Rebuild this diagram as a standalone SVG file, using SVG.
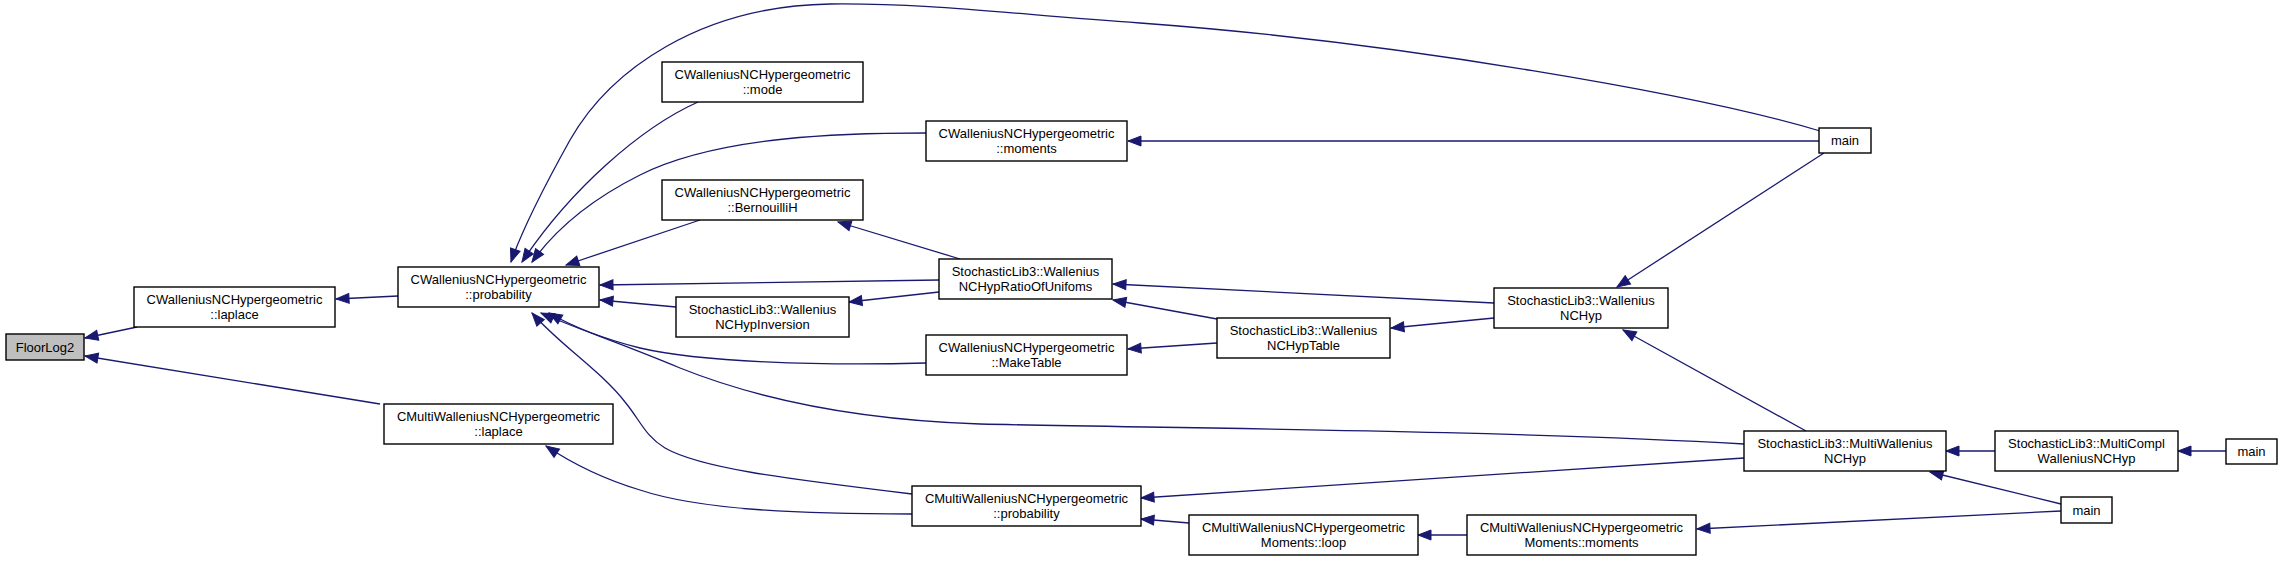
<svg xmlns="http://www.w3.org/2000/svg" width="2283" height="561" viewBox="0 0 2283 561">
<style>
.n rect{fill:#ffffff;stroke:#000000;stroke-width:1.4}
.n text{font-family:"Liberation Sans",Arial,Helvetica,sans-serif;font-size:13px;fill:#000000;text-anchor:middle}
#FloorLog2 rect{fill:#bfbfbf}
.e path{fill:none;stroke:#191970;stroke-width:1.3;marker-end:url(#arr)}
</style>
<defs>
<marker id="arr" markerUnits="userSpaceOnUse" markerWidth="14" markerHeight="11" refX="13" refY="5" orient="auto" overflow="visible">
<path d="M0,0 L13,5 L0,10 z" fill="#191970" stroke="#191970" stroke-width="1"/>
</marker>
</defs>
<rect width="2283" height="561" fill="#ffffff"/>
<g class="e" id="edges">
<path d="M137,327 L85,338"/>
<path d="M380,404 L85,356"/>
<path d="M398,296 L336,299"/>
<path d="M1820,131 C1700,95 1400,42 1140,23 C1010,14 930,3 830,4 C700,6 610,70 570,140 C545,185 522,230 511,262"/>
<path d="M698,102 C640,128 570,190 522,262"/>
<path d="M926,133 C850,133 720,135 640,175 C590,200 555,230 532,262"/>
<path d="M700,220 L566,265"/>
<path d="M960,259 L838,222"/>
<path d="M939,280 L600,285"/>
<path d="M676,307 L600,300"/>
<path d="M939,292 L849,302"/>
<path d="M926,363 C820,366 700,362 640,348 C600,338 570,325 549,313"/>
<path d="M1744,444 C1500,430 1150,428 980,424 C860,420 760,400 680,368 C620,343 575,328 541,313"/>
<path d="M912,494 C780,478 700,468 665,448 C645,436 640,420 625,402 C600,370 560,345 532,313"/>
<path d="M912,514 C800,514 700,510 640,490 C600,478 570,462 546,446"/>
<path d="M1819,141 L1128,141"/>
<path d="M1824,153 L1617,287"/>
<path d="M1494,303 L1113,284"/>
<path d="M1217,319 L1113,300"/>
<path d="M1217,343 L1128,349"/>
<path d="M1494,318 L1391,328"/>
<path d="M1806,431 L1623,330"/>
<path d="M1995,451 L1946,451"/>
<path d="M2226,451 L2178,451"/>
<path d="M2061,504 L1930,472"/>
<path d="M1744,458 L1141,498"/>
<path d="M1189,523 L1141,519"/>
<path d="M1467,535 L1418,535"/>
<path d="M2061,511 L1697,529"/>
</g>
<g class="n" id="FloorLog2"><rect x="6" y="334" width="78" height="26"/><text x="45" y="351.5">FloorLog2</text></g>
<g class="n" id="CWNCH_laplace"><rect x="134" y="287" width="201" height="40"/><text x="234.5" y="303.5">CWalleniusNCHypergeometric</text><text x="234.5" y="318.5">::laplace</text></g>
<g class="n" id="CWNCH_probability"><rect x="398" y="267" width="201" height="40"/><text x="498.5" y="283.5">CWalleniusNCHypergeometric</text><text x="498.5" y="298.5">::probability</text></g>
<g class="n" id="CMWNCH_laplace"><rect x="384" y="404" width="229" height="40"/><text x="498.5" y="420.5">CMultiWalleniusNCHypergeometric</text><text x="498.5" y="435.5">::laplace</text></g>
<g class="n" id="CWNCH_mode"><rect x="662" y="62" width="201" height="40"/><text x="762.5" y="78.5">CWalleniusNCHypergeometric</text><text x="762.5" y="93.5">::mode</text></g>
<g class="n" id="CWNCH_moments"><rect x="926" y="121" width="201" height="40"/><text x="1026.5" y="137.5">CWalleniusNCHypergeometric</text><text x="1026.5" y="152.5">::moments</text></g>
<g class="n" id="CWNCH_BernouilliH"><rect x="662" y="180" width="201" height="40"/><text x="762.5" y="196.5">CWalleniusNCHypergeometric</text><text x="762.5" y="211.5">::BernouilliH</text></g>
<g class="n" id="SL3_Inversion"><rect x="676" y="297" width="173" height="40"/><text x="762.5" y="313.5">StochasticLib3::Wallenius</text><text x="762.5" y="328.5">NCHypInversion</text></g>
<g class="n" id="SL3_Ratio"><rect x="939" y="259" width="173" height="40"/><text x="1025.5" y="275.5">StochasticLib3::Wallenius</text><text x="1025.5" y="290.5">NCHypRatioOfUnifoms</text></g>
<g class="n" id="CWNCH_MakeTable"><rect x="926" y="335" width="201" height="40"/><text x="1026.5" y="351.5">CWalleniusNCHypergeometric</text><text x="1026.5" y="366.5">::MakeTable</text></g>
<g class="n" id="CMWNCH_probability"><rect x="912" y="486" width="229" height="40"/><text x="1026.5" y="502.5">CMultiWalleniusNCHypergeometric</text><text x="1026.5" y="517.5">::probability</text></g>
<g class="n" id="SL3_NCHypTable"><rect x="1217" y="318" width="173" height="40"/><text x="1303.5" y="334.5">StochasticLib3::Wallenius</text><text x="1303.5" y="349.5">NCHypTable</text></g>
<g class="n" id="SL3_NCHyp"><rect x="1494" y="288" width="174" height="40"/><text x="1581" y="304.5">StochasticLib3::Wallenius</text><text x="1581" y="319.5">NCHyp</text></g>
<g class="n" id="main_top"><rect x="1819" y="128" width="52" height="25"/><text x="1845" y="145">main</text></g>
<g class="n" id="CMWNCHM_loop"><rect x="1189" y="515" width="229" height="40"/><text x="1303.5" y="531.5">CMultiWalleniusNCHypergeometric</text><text x="1303.5" y="546.5">Moments::loop</text></g>
<g class="n" id="CMWNCHM_moments"><rect x="1467" y="515" width="229" height="40"/><text x="1581.5" y="531.5">CMultiWalleniusNCHypergeometric</text><text x="1581.5" y="546.5">Moments::moments</text></g>
<g class="n" id="SL3_MultiNCHyp"><rect x="1744" y="431" width="202" height="40"/><text x="1845" y="447.5">StochasticLib3::MultiWallenius</text><text x="1845" y="462.5">NCHyp</text></g>
<g class="n" id="SL3_MultiCompl"><rect x="1995" y="431" width="183" height="40"/><text x="2086.5" y="447.5">StochasticLib3::MultiCompl</text><text x="2086.5" y="462.5">WalleniusNCHyp</text></g>
<g class="n" id="main_right"><rect x="2226" y="439" width="51" height="25"/><text x="2251.5" y="456">main</text></g>
<g class="n" id="main_bottom"><rect x="2061" y="497" width="51" height="26"/><text x="2086.5" y="514.5">main</text></g>
</svg>
